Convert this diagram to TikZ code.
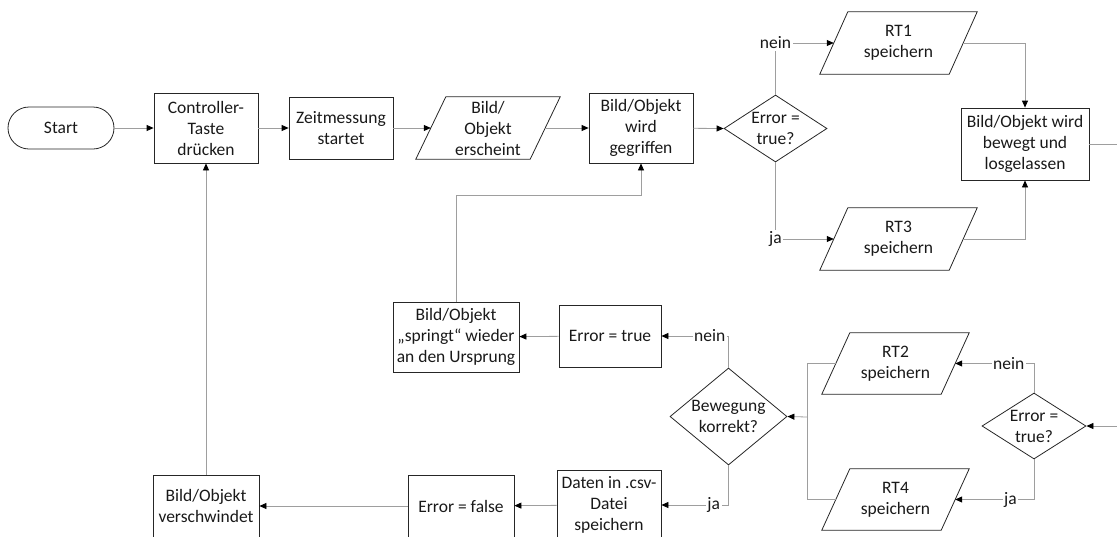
\documentclass[tikz,border=0pt]{standalone}
\usepackage{fontspec}
\setmainfont{Carlito}
\usetikzlibrary{shapes.geometric,arrows.meta}
\newcommand\drawio[2]{\draw[shp] ([xshift=#2]#1.north west) -- ([xshift=#2]#1.north east) -- ([xshift=-#2]#1.south east) -- ([xshift=-#2]#1.south west) -- cycle;}
\begin{document}
\begin{tikzpicture}[x=1pt,y=-1pt,
  every node/.style={font=\fontsize{17.5}{21}\selectfont, text=black!90},
  shp/.style={draw=black!85, line width=0.8pt},
  box/.style={shp, rectangle, align=center, inner sep=1pt},
  iobody/.style={rectangle, align=center, inner sep=0pt, minimum width=#1},
  dia/.style={shp, diamond, inner sep=0pt},
  txt/.style={align=center, inner sep=0pt},
  conn/.style={draw=black!38, line width=0.8pt},
  arr/.style={conn, -{Triangle[length=7pt,width=6pt,color=black]}},
  lbl/.style={fill=white, inner sep=1.5pt}
]
\useasboundingbox (0,0) rectangle (1117,536);

% top row
\node[shp, rectangle, rounded corners=21pt, minimum width=106pt, minimum height=42pt] (start) at (61,128) {Start};
\node[box, minimum width=104pt, minimum height=70pt] (ctrl) at (206,128) {Controller-\\Taste\\drücken};
\node[box, minimum width=104pt, minimum height=62pt] (zeit) at (341,128) {Zeitmessung\\startet};
\node[iobody=114pt, minimum height=62pt] (ersch) at (488,128) {Bild/\\Objekt\\erscheint};
\drawio{ersch}{15pt}
\node[box, minimum width=104pt, minimum height=70pt] (greif) at (641,128) {Bild/Objekt\\wird\\gegriffen};
\node[dia, minimum width=103pt, minimum height=67pt, label={[txt]center:{Error =\\true?}}] (d1) at (775.5,128.5) {};
\node[iobody=129pt, minimum height=62pt] (rt1) at (898.5,43) {RT1\\speichern};
\drawio{rt1}{14pt}
\node[iobody=129pt, minimum height=62pt] (rt3) at (898.5,239) {RT3\\speichern};
\drawio{rt3}{14pt}
\node[box, minimum width=128pt, minimum height=72pt] (move) at (1025,144) {Bild/Objekt wird\\bewegt und\\losgelassen};

% right lower part
\node[dia, minimum width=104pt, minimum height=66pt, label={[txt]center:{Error =\\true?}}] (d2) at (1034,426) {};
\node[iobody=119pt, minimum height=61pt] (rt2) at (895.5,363.5) {RT2\\speichern};
\drawio{rt2}{14pt}
\node[iobody=119pt, minimum height=61pt] (rt4) at (895.5,499.5) {RT4\\speichern};
\drawio{rt4}{14pt}
\node[dia, minimum width=117pt, minimum height=97pt, label={[txt]center:{Bewegung\\korrekt?}}] (bew) at (728.5,416.5) {};

% middle
\node[box, minimum width=102pt, minimum height=62pt] (err1) at (610,336) {Error = true};
\node[box, minimum width=126pt, minimum height=70pt] (spring) at (456,337) {Bild/Objekt\\„springt“ wieder\\an den Ursprung};

% bottom row
\node[box, minimum width=104pt, minimum height=70pt] (daten) at (609,505) {Daten in .csv-\\Datei\\speichern};
\node[box, minimum width=106pt, minimum height=62pt] (errf) at (461,506) {Error = false};
\node[box, minimum width=106pt, minimum height=62pt] (versch) at (206,506) {Bild/Objekt\\verschwindet};

\coordinate (rx) at (1140,0);
\coordinate (join) at (807,417);
\coordinate (k1) at (456,195);

% connectors
\draw[arr] (start) -- (ctrl);
\draw[arr] (ctrl) -- (zeit);
\draw[arr] (zeit) -- (ersch.west);
\draw[arr] (ersch.east) -- (greif);
\draw[arr] (greif) -- (d1.west);
\draw[arr] (d1.north) |- node[lbl, pos=0.5] {nein} (rt1.west);
\draw[arr] (d1.south) |- node[lbl, pos=0.5] {ja} (rt3.west);
\draw[arr] (rt1.east) -| (move.north);
\draw[arr] (rt3.east) -| (move.south);
\draw[arr] (move.east) -- (move.east -| rx) |- (d2.east);
\draw[arr] (d2.north) |- node[lbl, pos=0.66] {nein} (rt2.east);
\draw[arr] (d2.south) |- node[lbl, pos=0.65] {ja} (rt4.east);
\draw[conn] (rt2.west) -| (join);
\draw[conn] (rt4.west) -| (join);
\draw[arr] (join) -- (bew.east);
\draw[arr] (bew.north) |- node[lbl, pos=0.64] {nein} (err1.east);
\draw[arr] (bew.south) |- node[lbl, pos=0.61] {ja} (daten.east);
\draw[arr] (err1) -- (spring);
\draw[arr] (spring.north) -- (k1) -| (greif.south);
\draw[arr] (daten) -- (errf);
\draw[arr] (errf) -- (versch);
\draw[arr] (versch) -- (ctrl);
\end{tikzpicture}
\end{document}
